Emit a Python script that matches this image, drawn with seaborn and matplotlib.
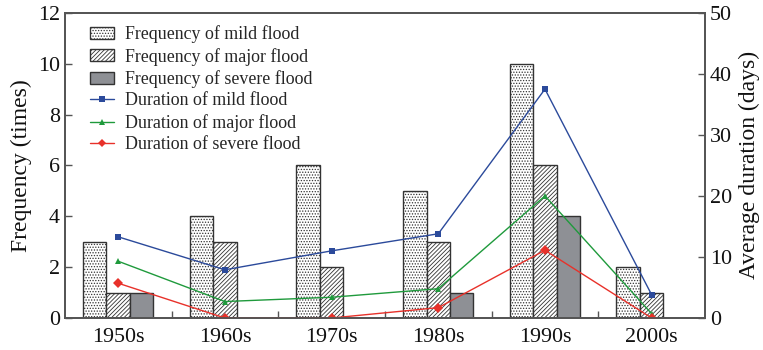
import matplotlib
matplotlib.use("Agg")
import matplotlib.pyplot as plt
import seaborn as sns
import pandas as pd
from matplotlib.patches import Patch
from matplotlib.lines import Line2D

decades = ["1950s", "1960s", "1970s", "1980s", "1990s", "2000s"]
freq_mild = [3, 4, 6, 5, 10, 2]
freq_major = [1, 3, 2, 3, 6, 1]
freq_severe = [1, 0, 0, 1, 4, 0]
dur_mild = [13.3, 7.9, 11.0, 13.8, 37.5, 3.8]
dur_major = [9.3, 2.7, 3.4, 4.8, 20.0, 0.7]
dur_severe = [5.7, 0.0, 0.0, 1.7, 11.1, 0.0]
freq_labels = ["Frequency of mild flood", "Frequency of major flood", "Frequency of severe flood"]
dur_labels = ["Duration of mild flood", "Duration of major flood", "Duration of severe flood"]

sns.set_theme(style="white")
plt.rcParams["font.family"] = ["Liberation Serif", "DejaVu Serif"]
plt.rcParams["hatch.linewidth"] = 0.6
plt.rcParams["hatch.color"] = "#333333"

freq_df = pd.DataFrame({
    "decade": decades * 3,
    "freq": freq_mild + freq_major + freq_severe,
    "type": sum([[l] * len(decades) for l in freq_labels], []),
})
dur_df = pd.DataFrame({
    "decade": decades * 3,
    "dur": dur_mild + dur_major + dur_severe,
    "type": sum([[l] * len(decades) for l in dur_labels], []),
})

bar_colors = ["white", "white", "#8e9095"]
hatches = ["......", "////////", ""]
line_colors = ["#2b4a9b", "#1f9a3c", "#e8312a"]
markers = ["s", "^", "D"]

fig = plt.figure(figsize=(7.63, 3.5), dpi=100)
ax = fig.add_axes([0.085, 0.0914, 0.839, 0.872])

sns.barplot(data=freq_df, x="decade", y="freq", hue="type", hue_order=freq_labels,
            palette=bar_colors, width=0.66, ax=ax, legend=False,
            edgecolor="#333333", linewidth=1.0, saturation=1)
n = len(decades)
for i, p in enumerate(ax.patches[:3 * n]):
    p.set_hatch(hatches[i // n])
    p.set_edgecolor("#333333")

ax2 = ax.twinx()
sns.lineplot(data=dur_df, x="decade", y="dur", hue="type", hue_order=dur_labels,
             style="type", style_order=dur_labels,
             palette=dict(zip(dur_labels, line_colors)),
             markers=dict(zip(dur_labels, markers)), dashes=False,
             markersize=5, markeredgewidth=0, linewidth=1.0, ax=ax2, legend=False, sort=False)

ax.set_xlim(-0.5, 5.5)
ax.set_ylim(0, 12)
ax.set_yticks(range(0, 13, 2))
ax2.set_ylim(0, 50)
ax2.set_yticks(range(0, 51, 10))
ax.set_xticks(range(n))
ax.set_xticklabels(decades)
ax.set_xticks([i + 0.5 for i in range(n - 1)], minor=True)

ax.set_xlabel("")
ax.set_ylabel("Frequency (times)", fontsize=17, color="#111111", labelpad=4)
ax2.set_xlabel("")
ax2.set_ylabel("Average duration (days)", fontsize=17, color="#111111", labelpad=5)

for a in (ax, ax2):
    for s in a.spines.values():
        s.set_color("#555555")
        s.set_linewidth(1.3)
    a.tick_params(axis="y", direction="in", length=5, width=1, colors="#555555",
                  labelcolor="#111111", labelsize=15.8)
ax.tick_params(axis="x", which="major", length=0, labelsize=15.8, labelcolor="#111111", pad=7)
ax.tick_params(axis="x", which="minor", direction="in", length=5, width=1, colors="#555555", bottom=True)
ax.tick_params(axis="y", left=True, right=False)
ax2.tick_params(axis="y", right=True, left=False)

handles = [Patch(facecolor=bar_colors[i], edgecolor="#333333", hatch=hatches[i], linewidth=1.0, label=freq_labels[i]) for i in range(3)]
handles += [Line2D([], [], color=line_colors[i], marker=markers[i], markersize=4.5, markeredgewidth=0, linewidth=1.0, label=dur_labels[i]) for i in range(3)]
ax2.legend(handles=handles, loc="upper left", bbox_to_anchor=(0.02, 1.0), frameon=False,
           fontsize=12.9, handlelength=1.35, handleheight=0.65, labelspacing=0.25,
           borderaxespad=0.3, handletextpad=0.6)

fig.savefig("out.png", dpi=100)
